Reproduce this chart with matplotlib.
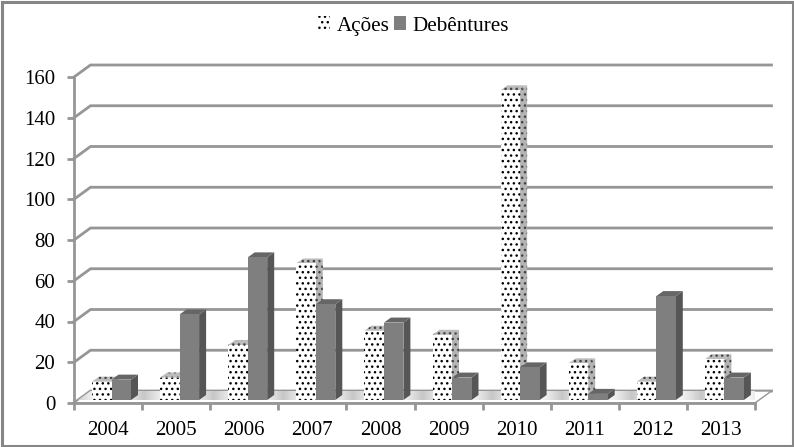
#!/usr/bin/env python3

import numpy as np
import matplotlib
matplotlib.use("Agg")
import matplotlib.pyplot as plt
from matplotlib.patches import Patch, Polygon, Rectangle

plt.rcParams["font.family"] = ["Liberation Serif", "DejaVu Serif"]
plt.rcParams["hatch.linewidth"] = 1.0

# data
anos = ["2004", "2005", "2006", "2007", "2008", "2009", "2010", "2011", "2012", "2013"]
acoes = [9, 11, 27, 67, 34, 32, 152, 18, 9, 20]
debentures = [10, 42, 70, 47, 38, 11, 16, 3, 51, 11]
y_ticks = [0, 20, 40, 60, 80, 100, 120, 140, 160]

W, H = 794, 447
GRAY = "#868686"
LINE = "#969696"

# pseudo 3D geometry, in pixels
X0, X1 = 74, 755
Y0, Y1 = 403, 77
WALL_DX, WALL_DY = 16.5, 12
BAR_DX, BAR_DY = 7, 5
BAR_W = 19.5
BAR_LIFT = 3

fig = plt.figure(figsize=(W / 100, H / 100), dpi=100, facecolor="white")
ax = fig.add_axes([X0 / W, 1 - Y0 / H, (X1 - X0) / W, (Y0 - Y1) / H])
ax.set_xlim(0, len(anos))
ax.set_ylim(0, 160)
ax.patch.set_alpha(0)

px_x = len(anos) / (X1 - X0)
px_y = 160 / (Y0 - Y1)
wall_dx, wall_dy = WALL_DX * px_x, WALL_DY * px_y
bar_dx, bar_dy = BAR_DX * px_x, BAR_DY * px_y
bar_w = BAR_W * px_x
lift = BAR_LIFT * px_y
n = len(anos)

# back wall grid lines
for v in y_ticks:
    ax.plot([0, wall_dx, n + wall_dx], [v, v + wall_dy, v + wall_dy],
            color=LINE, lw=2, clip_on=False, zorder=1, solid_joinstyle="miter")

# floor with its soft banding
floor = Polygon([(0, 0), (n, 0), (n + wall_dx, wall_dy), (wall_dx, wall_dy)],
                facecolor="white", edgecolor=LINE, lw=1, zorder=2, clip_on=False)
ax.add_patch(floor)
band = np.abs(np.sin(np.linspace(0, n * np.pi, 800)))[None, :]
img = ax.imshow(band, extent=(0, n + wall_dx, lift, wall_dy), cmap="gray", vmin=-3.5, vmax=1.0,
                aspect="auto", zorder=2)
img.set_clip_path(floor)
ax.set_xlim(0, n)
ax.set_ylim(0, 160)


def draw_bar(x, v, front, side, top, hatch=None, hatch_side=None):
    y0, y1 = lift, v + lift
    ax.add_patch(Polygon([(x + bar_w, y0), (x + bar_w + bar_dx, y0 + bar_dy),
                          (x + bar_w + bar_dx, y1 + bar_dy), (x + bar_w, y1)],
                         facecolor=side, edgecolor=hatch_side or side, hatch=hatch,
                         lw=0, zorder=3, clip_on=False))
    ax.add_patch(Polygon([(x, y1), (x + bar_w, y1), (x + bar_w + bar_dx, y1 + bar_dy),
                          (x + bar_dx, y1 + bar_dy)],
                         facecolor=top, edgecolor=hatch_side or top, hatch=hatch,
                         lw=0, zorder=3, clip_on=False))
    ax.bar(x, v, bar_w, bottom=y0, align="edge", color=front, lw=0, zorder=3, clip_on=False,
           hatch=hatch, edgecolor="black" if hatch else front)


start = 18 * px_x
for i in range(n):
    draw_bar(i + start, acoes[i], "white", "#b4b4b4", "#bcbcbc", "...", "#444444")
    draw_bar(i + start + bar_w, debentures[i], "#7f7f7f", "#565656", "#666666")

# axes
for name in ("top", "right"):
    ax.spines[name].set_visible(False)
for name in ("left", "bottom"):
    ax.spines[name].set_color(LINE)
    ax.spines[name].set_linewidth(2)
    ax.spines[name].set_zorder(4)

ax.set_yticks(y_ticks)
ax.set_xticks(np.arange(n + 1))
ax.set_xticklabels([])
ax.set_xticks(np.arange(n) + 0.5, minor=True)
ax.set_xticklabels(anos, minor=True)
ax.tick_params(axis="x", which="major", length=5, width=2, color=LINE)
ax.tick_params(axis="x", which="minor", length=0, pad=13, labelsize=15)
ax.tick_params(axis="y", length=5, width=2, color=LINE, pad=8.5, labelsize=15)

# outer frame
fig.add_artist(Rectangle((1.5 / W, 1.5 / H), (W - 3) / W, (H - 3) / H, transform=fig.transFigure,
                         facecolor="none", edgecolor=GRAY, lw=2.2))

handles = [
    Patch(facecolor="white", edgecolor="black", hatch="...", lw=0, label="Ações"),
    Patch(facecolor="#7f7f7f", edgecolor="#7f7f7f", lw=0, label="Debêntures"),
]
fig.legend(handles=handles, loc="center", bbox_to_anchor=(413.5 / W, 1 - 26 / H), ncol=2, frameon=False,
           fontsize=15.2, handlelength=0.6, handleheight=0.6, handletextpad=0.3, columnspacing=0.2,
           borderpad=0, borderaxespad=0)

fig.savefig("out.png", dpi=100, facecolor="white")
